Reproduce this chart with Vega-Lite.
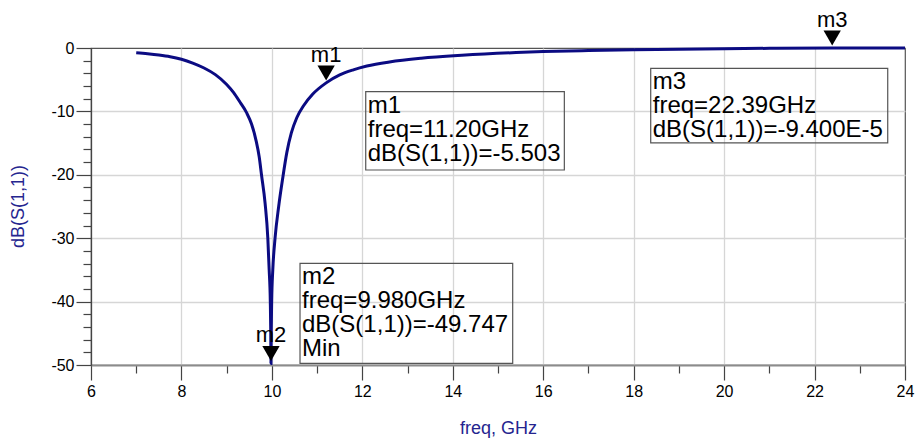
{
  "$schema": "https://vega.github.io/schema/vega-lite/v6.json",
  "width": 814,
  "height": 317,
  "autosize": {"type": "none"},
  "padding": {"left": 91, "top": 48, "right": 11, "bottom": 76},
  "background": "white",
  "config": {
    "font": "Liberation Sans",
    "view": {"stroke": "#555555", "strokeWidth": 1.2}
  },
  "datasets": {
    "curve": [
      {"f": 7.00, "db": -0.74},
      {"f": 7.25, "db": -0.9},
      {"f": 7.50, "db": -1.1},
      {"f": 7.75, "db": -1.37},
      {"f": 8.00, "db": -1.78},
      {"f": 8.25, "db": -2.38},
      {"f": 8.50, "db": -3.15},
      {"f": 8.75, "db": -4.2},
      {"f": 9.00, "db": -5.75},
      {"f": 9.15, "db": -7.0},
      {"f": 9.30, "db": -8.6},
      {"f": 9.44, "db": -10.2},
      {"f": 9.55, "db": -12.0},
      {"f": 9.65, "db": -14.6},
      {"f": 9.72, "db": -17.2},
      {"f": 9.77, "db": -20.0},
      {"f": 9.85, "db": -24.5},
      {"f": 9.91, "db": -30.0},
      {"f": 9.94, "db": -35.0},
      {"f": 9.965, "db": -40.0},
      {"f": 9.975, "db": -45.0},
      {"f": 9.98, "db": -49.747},
      {"f": 9.985, "db": -45.0},
      {"f": 9.995, "db": -40.0},
      {"f": 10.02, "db": -35.0},
      {"f": 10.07, "db": -30.0},
      {"f": 10.15, "db": -25.0},
      {"f": 10.24, "db": -20.5},
      {"f": 10.33, "db": -16.5},
      {"f": 10.43, "db": -13.4},
      {"f": 10.55, "db": -11.0},
      {"f": 10.70, "db": -9.1},
      {"f": 10.90, "db": -7.3},
      {"f": 11.20, "db": -5.503},
      {"f": 11.50, "db": -4.25},
      {"f": 11.80, "db": -3.45},
      {"f": 12.10, "db": -2.85},
      {"f": 12.60, "db": -2.2},
      {"f": 13.30, "db": -1.62},
      {"f": 14.20, "db": -1.15},
      {"f": 15.40, "db": -0.72},
      {"f": 16.00, "db": -0.57},
      {"f": 17.00, "db": -0.41},
      {"f": 18.00, "db": -0.29},
      {"f": 19.00, "db": -0.19},
      {"f": 20.00, "db": -0.11},
      {"f": 21.00, "db": -0.05},
      {"f": 22.39, "db": -0.000094},
      {"f": 24.00, "db": 0}
    ],
    "markers": [
      {"name": "m1", "f": 11.20, "db": -5.503},
      {"name": "m2", "f": 9.98, "db": -49.747},
      {"name": "m3", "f": 22.39, "db": -0.000094}
    ],
    "boxes": [
      {"name": "m1", "x1": 12.075, "x2": 16.467, "y1": -6.89, "y2": -19.24, "txt": "m1\nfreq=11.20GHz\ndB(S(1,1))=-5.503"},
      {"name": "m2", "x1": 10.622, "x2": 15.325, "y1": -33.96, "y2": -49.73, "txt": "m2\nfreq=9.980GHz\ndB(S(1,1))=-49.747\nMin"},
      {"name": "m3", "x1": 18.377, "x2": 23.618, "y1": -3.2, "y2": -14.98, "txt": "m3\nfreq=22.39GHz\ndB(S(1,1))=-9.400E-5"}
    ]
  },
  "layer": [
    {
      "data": {"name": "curve"},
      "mark": {"type": "line", "color": "#0b0b82", "strokeWidth": 3, "interpolate": "monotone"},
      "encoding": {
        "x": {
          "field": "f", "type": "quantitative",
          "scale": {"domain": [6, 24], "nice": false, "zero": false},
          "axis": {
            "title": "freq, GHz",
            "titleColor": "#25258f",
            "titleFontSize": 18,
            "titleFontWeight": "normal",
            "titleFont": "Liberation Sans",
            "titleX": 407,
            "titleY": 63,
            "titleBaseline": "middle",
            "values": [6,7,8,9,10,11,12,13,14,15,16,17,18,19,20,21,22,23,24],
            "tickCount": 40,
            "labelExpr": "datum.value % 2 === 0 ? toString(datum.value) : ''",
            "labelOverlap": false,
            "labelFontSize": 16,
            "labelColor": "#000000",
            "labelPadding": 3,
            "labelFlush": false,
            "tickSize": {"condition": {"test": "datum.value % 2 === 0", "value": 15}, "value": 8},
            "tickColor": "#444444",
            "tickWidth": 1.2,
            "domainColor": "#8c8c8c",
            "domainWidth": 2,
            "grid": true,
            "gridColor": "#d6d6d6",
            "gridWidth": 1.3,
            "gridOpacity": {"condition": {"test": "datum.value % 2 === 0 && datum.value > 6 && datum.value < 24", "value": 1}, "value": 0}
          }
        },
        "y": {
          "field": "db", "type": "quantitative",
          "scale": {"domain": [-50, 0], "nice": false, "zero": false},
          "axis": {
            "title": "dB(S(1,1))",
            "titleColor": "#25258f",
            "titleFontSize": 18,
            "titleFontWeight": "normal",
            "titleFont": "Liberation Sans",
            "titleX": -73,
            "titleY": 158,
            "titleAngle": -90,
            "titleBaseline": "middle",
            "titleAlign": "center",
            "values": [-50,-48,-46,-44,-42,-40,-38,-36,-34,-32,-30,-28,-26,-24,-22,-20,-18,-16,-14,-12,-10,-8,-6,-4,-2,0],
            "tickCount": 40,
            "labelExpr": "datum.value % 10 === 0 ? toString(datum.value) : ''",
            "labelOverlap": false,
            "labelFontSize": 16,
            "labelColor": "#000000",
            "labelPadding": 2,
            "labelFlush": false,
            "tickSize": {"condition": {"test": "datum.value % 10 === 0", "value": 15}, "value": 8},
            "tickColor": "#444444",
            "tickWidth": 1.2,
            "domainColor": "#444444",
            "domainWidth": 1.3,
            "grid": true,
            "gridColor": "#d6d6d6",
            "gridWidth": 1.3,
            "gridOpacity": {"condition": {"test": "datum.value % 10 === 0 && datum.value < 0 && datum.value > -50", "value": 1}, "value": 0}
          }
        }
      }
    },
    {
      "data": {"name": "boxes"},
      "mark": {"type": "rect", "fill": null, "fillOpacity": 0, "stroke": "#555555", "strokeWidth": 1.2},
      "encoding": {
        "x": {"field": "x1", "type": "quantitative"},
        "x2": {"field": "x2"},
        "y": {"field": "y1", "type": "quantitative"},
        "y2": {"field": "y2"}
      }
    },
    {
      "data": {"name": "boxes"},
      "mark": {"type": "text", "align": "left", "baseline": "top", "dx": 2, "dy": 2, "fontSize": 24, "lineHeight": 24, "lineBreak": "\n", "color": "#000000", "font": "Liberation Sans"},
      "encoding": {
        "x": {"field": "x1", "type": "quantitative"},
        "y": {"field": "y1", "type": "quantitative"},
        "text": {"field": "txt"}
      }
    },
    {
      "data": {"name": "markers"},
      "mark": {"type": "point", "shape": "triangle-down", "filled": true, "color": "#000000", "opacity": 1, "size": 300, "yOffset": -10},
      "encoding": {
        "x": {"field": "f", "type": "quantitative"},
        "y": {"field": "db", "type": "quantitative"}
      }
    },
    {
      "data": {"name": "markers"},
      "mark": {"type": "text", "align": "center", "baseline": "alphabetic", "yOffset": -21, "fontSize": 22, "color": "#000000", "font": "Liberation Sans"},
      "encoding": {
        "x": {"field": "f", "type": "quantitative"},
        "y": {"field": "db", "type": "quantitative"},
        "text": {"field": "name"}
      }
    }
  ]
}
